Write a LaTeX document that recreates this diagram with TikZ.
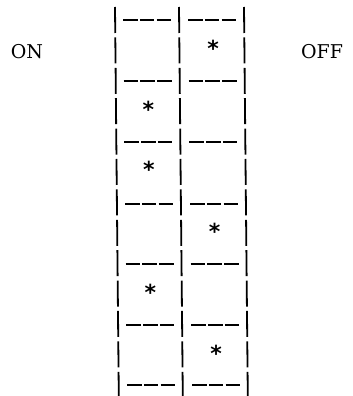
\documentclass[tikz,border=0pt]{standalone}
\usepackage{fontspec}
\setmainfont{DejaVu Serif}
\newfontfamily\starfont{DejaVu Sans}
\begin{document}
\begin{tikzpicture}[x=1pt, y=-1pt,
  sidetext/.style={font=\fontsize{19}{19}\selectfont, inner sep=0pt},
  starmark/.style={font=\starfont\bfseries\fontsize{22}{22}\selectfont, inner sep=0pt},
  rail/.style={line width=1.8pt, dash pattern=on 26pt off 4.4pt},
  rung/.style={line width=1.8pt, dash pattern=on 14.5pt off 2.25pt}]
\useasboundingbox (0,0) rectangle (353,396);

% Labels
\node[sidetext] (on) at (27,52) {ON};
\node[sidetext] (off) at (322,52) {OFF};

% Rails
\foreach \x in {115,179,244}
  \draw[rail] (\x,7) -- (\x+3.8,396);

% Rungs
\foreach \yy/\dx in {20/0, 81/0.7, 142/1.3, 204/2, 264/2.7, 325/3.4, 385/4} {
  \draw[rung] (123+\dx,\yy) -- (171+\dx,\yy);
  \draw[rung] (188+\dx,\yy) -- (236+\dx,\yy);
}

% Stars
\foreach \y/\x [count=\i] in {48/213, 109/148.5, 169/149, 231/214.5, 292/150.5, 353/216}
  \node[starmark] (star\i) at (\x,\y) {*};

\end{tikzpicture}
\end{document}
